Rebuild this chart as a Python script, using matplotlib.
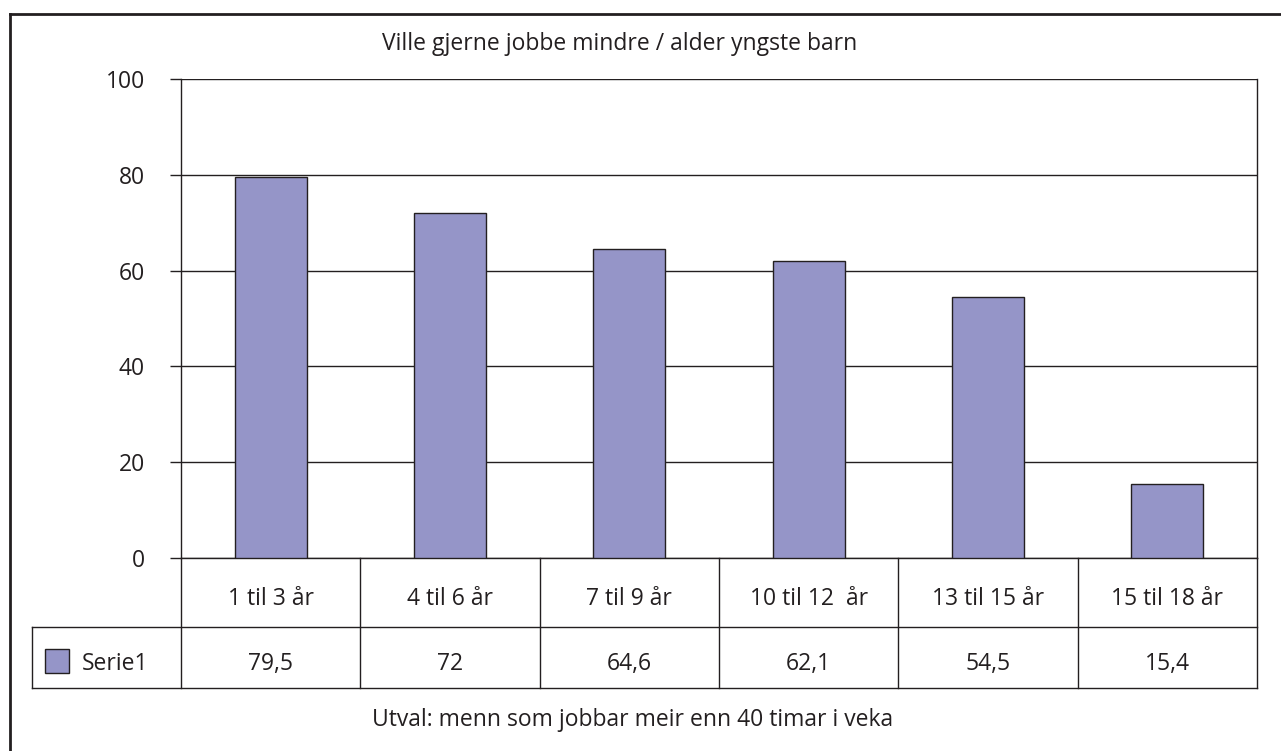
import matplotlib.pyplot as plt
from matplotlib.patches import Rectangle
from matplotlib.lines import Line2D
import matplotlib.transforms as mtransforms

# data
categories = ['1 til 3 år', '4 til 6 år', '7 til 9 år', '10 til 12  år', '13 til 15 år', '15 til 18 år']
values = [79.5, 72, 64.6, 62.1, 54.5, 15.4]
value_labels = ['79,5', '72', '64,6', '62,1', '54,5', '15,4']
series_name = 'Serie1'
title = 'Ville gjerne jobbe mindre / alder yngste barn'
note = 'Utval: menn som jobbar meir enn 40 timar i veka'

plt.rcParams['font.family'] = ['Open Sans', 'DejaVu Sans']
ink = '#231f20'
bar_color = '#9595c8'
fs = 16.5

W, H = 1281, 751
fig = plt.figure(figsize=(W / 100, H / 100), dpi=100)

def fx(px):
    return px / W

def fy(py):
    return 1 - py / H

# plot area in pixels: x 181..1257, y 79..558
ax = fig.add_axes([fx(181), fy(558), fx(1257 - 181), (558 - 79) / H])

x = list(range(len(categories)))
ax.bar(x, values, width=0.4, color=bar_color, edgecolor=ink, linewidth=1, zorder=3)
ax.set_xlim(-0.5, len(categories) - 0.5)
ax.set_ylim(0, 100)
ax.set_yticks([0, 20, 40, 60, 80, 100])
ax.yaxis.grid(True, color=ink, linewidth=1, zorder=0)
ax.tick_params(axis='y', direction='out', length=8, width=1, color=ink,
               pad=18, labelsize=fs, labelcolor=ink)
ax.set_xticks([])
for s in ax.spines.values():
    s.set_color(ink)
    s.set_linewidth(1)
ax.spines['top'].set_visible(False)

# data table below the plot
tr = mtransforms.blended_transform_factory(ax.transData, ax.transAxes)
row1 = -(627 - 558) / 479
row2 = -(688 - 558) / 479
base1 = -(605 - 558) / 479
base2 = -(670 - 558) / 479
left_cell = (32 - 181) / ((1257 - 181) / len(categories)) - 0.5
n = len(categories)

def hline(x0, x1, y):
    ax.add_line(Line2D([x0, x1], [y, y], transform=tr, color=ink, lw=1, clip_on=False))

def vline(xv, y0, y1):
    ax.add_line(Line2D([xv, xv], [y0, y1], transform=tr, color=ink, lw=1, clip_on=False))

hline(left_cell, n - 0.5, row1)
hline(left_cell, n - 0.5, row2)
for i in range(n + 1):
    vline(i - 0.5, row2, 0)
vline(left_cell, row2, row1)

for i, (cat, lab) in enumerate(zip(categories, value_labels)):
    ax.text(i, base1, cat, transform=tr, ha='center', va='baseline',
            fontsize=fs, color=ink)
    ax.text(i, base2, lab, transform=tr, ha='center', va='baseline',
            fontsize=fs, color=ink)

# legend key in the table
fig.patches.append(Rectangle((fx(45), fy(673)), fx(24), 24 / H, transform=fig.transFigure,
                             facecolor=bar_color, edgecolor=ink, linewidth=1))
fig.text(fx(82), fy(670), series_name, ha='left', va='baseline', fontsize=fs, color=ink)

fig.text(fx(620), fy(50), title, ha='center', va='baseline', fontsize=fs, color=ink)
fig.text(fx(633), fy(726), note, ha='center', va='baseline', fontsize=fs, color=ink)

# outer frame (top and left)
fig.add_artist(Line2D([fx(10), 1], [fy(14), fy(14)], transform=fig.transFigure, color=ink, lw=2))
fig.add_artist(Line2D([fx(10), fx(10)], [fy(14), 0], transform=fig.transFigure, color=ink, lw=2))

fig.savefig('out.png', dpi=100)
